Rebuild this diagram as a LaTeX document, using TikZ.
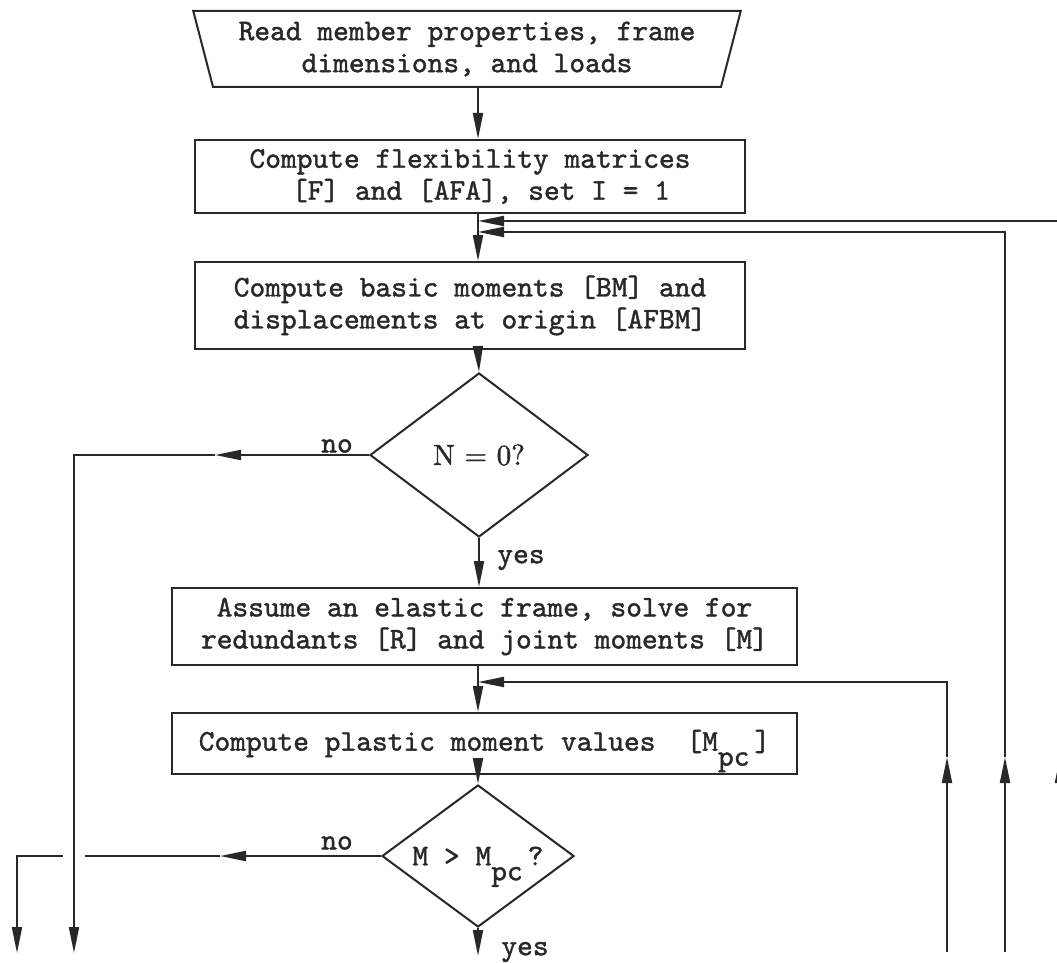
\documentclass[tikz,border=0pt]{standalone}
\usepackage{fontspec}
\newfontfamily\tw{lmmono10-regular.otf}[BoldFont=lmmono10-regular.otf,BoldFeatures={FakeBold=1.3}]
\newfontfamily\rmb{lmroman10-regular.otf}[BoldFont=lmroman10-regular.otf,BoldFeatures={FakeBold=1.3}]
\usetikzlibrary{shapes.geometric,arrows.meta,calc}
\definecolor{ink}{RGB}{40,40,40}
\begin{document}
\begin{tikzpicture}[x=1pt,y=-1pt,
  font=\tw\bfseries\fontsize{30}{32}\selectfont,
  line/.style={draw=ink,line width=2pt},
  arr/.style={line,-{Triangle[length=26pt,width=10pt]}},
  box/.style={draw=ink,line width=2pt,rectangle,inner sep=0pt,align=center,text=ink},
  dec/.style={draw=ink,line width=2pt,diamond,inner sep=0pt,text=ink},
  lbl/.style={text=ink,inner sep=0pt}]
\useasboundingbox (0,0) rectangle (1057,963);
\fill[white] (0,0) rectangle (1057,963);
\clip (0,0) rectangle (1057,963);

\coordinate (spine) at (478,0);

\node[draw=ink,line width=2pt,trapezium,shape border rotate=180,
  trapezium left angle=72,trapezium right angle=72,trapezium stretches=true,
  minimum width=548pt,minimum height=76pt,inner sep=0pt,align=center,text=ink]
  (in) at (467,49) {Read member properties, frame\\dimensions, and loads};

\node[box,minimum width=550pt,minimum height=73pt] (b2) at (470,176.5)
  {Compute flexibility matrices\\\hspace*{22pt}[F] and [AFA], set I = 1};
\node[box,minimum width=550pt,minimum height=87pt] (b3) at (470,305.5)
  {Compute basic moments [BM] and\\displacements at origin [AFBM]};
\node[dec,aspect=1.33,minimum width=218pt,minimum height=164pt] (d1) at (479,455)
  {\rmb\bfseries\fontsize{29}{32}\selectfont N = 0?};
\node[box,minimum width=625pt,minimum height=77pt] (b5) at (484.5,626.5)
  {Assume an elastic frame, solve for\\redundants [R] and joint moments [M]};
\node[box,minimum width=625pt,minimum height=61pt] (b6) at (484.5,743.5)
  {Compute plastic moment values\hspace{31pt}[M\raisebox{-15pt}[0pt][0pt]{pc}\,]};
\node[dec,aspect=1.35,minimum width=192pt,minimum height=142pt] (d2) at (478,856)
  {M > M\raisebox{-15pt}[0pt][0pt]{pc}\,?};

\node[lbl] (no1) at (337,446) {no};
\node[lbl] (yes1) at (521,560) {yes};
\node[lbl] (no2) at (337,843) {no};
\node[lbl] (yes2) at (525,952) {yes};

% main flow
\draw[arr] (in.south -| spine) -- (b2.north -| spine);
\draw[arr] (b2.south -| spine) -- (b3.north -| spine);
\draw[arr] (b3.south -| spine) -- (d1.north);
\draw[arr] (d1.south) -- (b5.north -| d1.south);
\draw[arr] (b5.south -| spine) -- (b6.north -| spine);
\draw[arr] (b6.south -| spine) -- (d2.north);
\coordinate (y2end) at (478,956);
\draw[arr] (d2.south) -- (y2end);

% no branch of N = 0?
\coordinate (c1) at (74,0);
\coordinate (c1end) at (74,953);
\coordinate (n1tip) at (215,0);
\draw[arr] (d1.west) -- (d1.west -| n1tip);
\draw[arr] (d1.west -| n1tip) -- (d1.west -| c1) -- (c1end);

% no branch of M > Mpc ?
\coordinate (n2tip) at (220,0);
\coordinate (gapR) at (85,0);
\coordinate (gapL) at (63,0);
\coordinate (c2) at (17,0);
\coordinate (c2end) at (17,953);
\draw[arr] (d2.west) -- (d2.west -| n2tip);
\draw[line] (d2.west -| n2tip) -- (d2.west -| gapR);
\draw[arr] (d2.west -| gapL) -- (d2.west -| c2) -- (c2end);

% feedback lines
\coordinate (r1b) at (1060,952);
\coordinate (r1m) at (1060,757);
\coordinate (r1t) at (1060,221);
\draw[arr] (r1b) -- (r1m);
\draw[arr] (r1m) -- (r1t) -- (r1t -| spine);

\coordinate (r2b) at (1005,952);
\coordinate (r2m) at (1005,757);
\coordinate (r2t) at (1005,232);
\draw[arr] (r2b) -- (r2m);
\draw[arr] (r2m) -- (r2t) -- (r2t -| spine);

\coordinate (r3b) at (947,952);
\coordinate (r3m) at (947,757);
\coordinate (r3t) at (947,682);
\draw[arr] (r3b) -- (r3m);
\draw[arr] (r3m) -- (r3t) -- (r3t -| spine);
\end{tikzpicture}
\end{document}
